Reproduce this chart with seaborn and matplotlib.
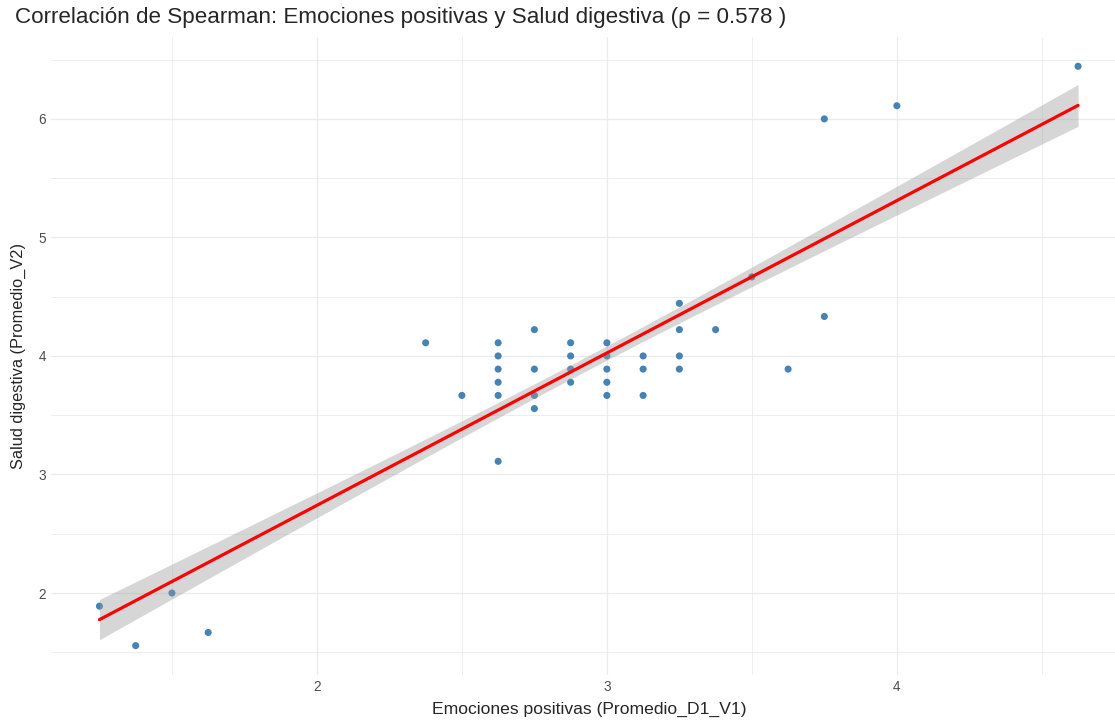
import numpy as np
import pandas as pd
import matplotlib
matplotlib.use("Agg")
import matplotlib.pyplot as plt
import seaborn as sns

# values (one entry per visible dot)
promedio_d1_v1 = [1.25, 1.375, 1.5, 1.625, 2.375, 2.5,
                  2.625, 2.625, 2.625, 2.625, 2.625, 2.625,
                  2.75, 2.75, 2.75, 2.75,
                  2.875, 2.875, 2.875, 2.875,
                  3.0, 3.0, 3.0, 3.0, 3.0,
                  3.125, 3.125, 3.125,
                  3.25, 3.25, 3.25, 3.25,
                  3.375, 3.5, 3.625, 3.75, 3.75, 4.0, 4.625]
promedio_v2 = [1.889, 1.556, 2.0, 1.667, 4.111, 3.667,
               4.111, 4.0, 3.889, 3.778, 3.667, 3.111,
               4.222, 3.889, 3.667, 3.556,
               4.111, 4.0, 3.889, 3.778,
               4.111, 4.0, 3.889, 3.778, 3.667,
               4.0, 3.889, 3.667,
               4.444, 4.222, 4.0, 3.889,
               4.222, 4.667, 3.889, 6.0, 4.333, 6.111, 6.444]
# estimated number of overplotted respondents behind each dot
conteo = [4, 4, 4, 4, 5, 5,
          5, 5, 5, 5, 5, 5,
          5, 5, 5, 5,
          5, 5, 5, 5,
          5, 5, 5, 5, 5,
          5, 5, 5,
          5, 5, 5, 5,
          5, 5, 5, 4, 4, 4, 4]
rho = 0.578

puntos = pd.DataFrame({'Promedio_D1_V1': promedio_d1_v1, 'Promedio_V2': promedio_v2})
df = pd.DataFrame({'Promedio_D1_V1': np.repeat(promedio_d1_v1, conteo),
                   'Promedio_V2': np.repeat(promedio_v2, conteo)})

sns.set_style("white")
plt.rcParams['font.family'] = ['Liberation Sans', 'DejaVu Sans']

W, H = 1115, 722
fig = plt.figure(figsize=(W / 100, H / 100), dpi=100)
# panel runs past the right edge, as in the cropped reference
left, right, top, bottom = 50.5, 1127, 37.3, 674.6
ax = fig.add_axes([left / W, 1 - bottom / H, (right - left) / W, (bottom - top) / H])

sns.scatterplot(data=puntos, x='Promedio_D1_V1', y='Promedio_V2', ax=ax,
                color='steelblue', s=26, edgecolor='none', zorder=3)
sns.regplot(data=df, x='Promedio_D1_V1', y='Promedio_V2', ax=ax, scatter=False,
            ci=None, color='red', line_kws={'linewidth': 2.3, 'zorder': 5})

# lm confidence band (95%), like geom_smooth(method = "lm")
x = df['Promedio_D1_V1'].to_numpy()
y = df['Promedio_V2'].to_numpy()
n = len(x)
b1, b0 = np.polyfit(x, y, 1)
resid = y - (b0 + b1 * x)
s = np.sqrt(np.sum(resid ** 2) / (n - 2))
sxx = np.sum((x - x.mean()) ** 2)
xg = np.linspace(x.min(), x.max(), 80)
se = s * np.sqrt(1 / n + (xg - x.mean()) ** 2 / sxx)
t = 1.97
yg = b0 + b1 * xg
ax.fill_between(xg, yg - t * se, yg + t * se, color='#999999', alpha=0.4,
                linewidth=0, zorder=4)

# ggplot-like expansion (5%)
xr = max(promedio_d1_v1) - min(promedio_d1_v1)
yr = max(promedio_v2) - min(promedio_v2)
ax.set_xlim(min(promedio_d1_v1) - 0.05 * xr, max(promedio_d1_v1) + 0.05 * xr)
ax.set_ylim(min(promedio_v2) - 0.05 * yr, max(promedio_v2) + 0.05 * yr)

ax.set_xticks([2, 3, 4])
ax.set_yticks([2, 3, 4, 5, 6])
ax.set_xticks([1.5, 2.5, 3.5, 4.5], minor=True)
ax.set_yticks([1.5, 2.5, 3.5, 4.5, 5.5, 6.5], minor=True)
ax.grid(which='major', color='#EBEBEB', linewidth=0.9)
ax.grid(which='minor', color='#EBEBEB', linewidth=0.6)
ax.set_axisbelow(True)
ax.tick_params(which='both', length=0)
ax.tick_params(axis='x', pad=4, labelsize=9.8, labelcolor='#4D4D4D')
ax.tick_params(axis='y', pad=3, labelsize=9.8, labelcolor='#4D4D4D')
for sp in ax.spines.values():
    sp.set_visible(False)
ax.set_xlabel('')
ax.set_ylabel('')

fig.text(589 / W, 1 - 709 / H, 'Emociones positivas (Promedio_D1_V1)',
         ha='center', va='center', fontsize=12.6)
fig.text(18 / W, 1 - 356 / H, 'Salud digestiva (Promedio_V2)',
         ha='center', va='center', rotation=90, fontsize=11.8)
fig.text(15 / W, 1 - 17 / H,
         f'Correlación de Spearman: Emociones positivas y Salud digestiva (ρ = {rho} )',
         ha='left', va='center', fontsize=16.1)

fig.savefig('out.png', dpi=100)
